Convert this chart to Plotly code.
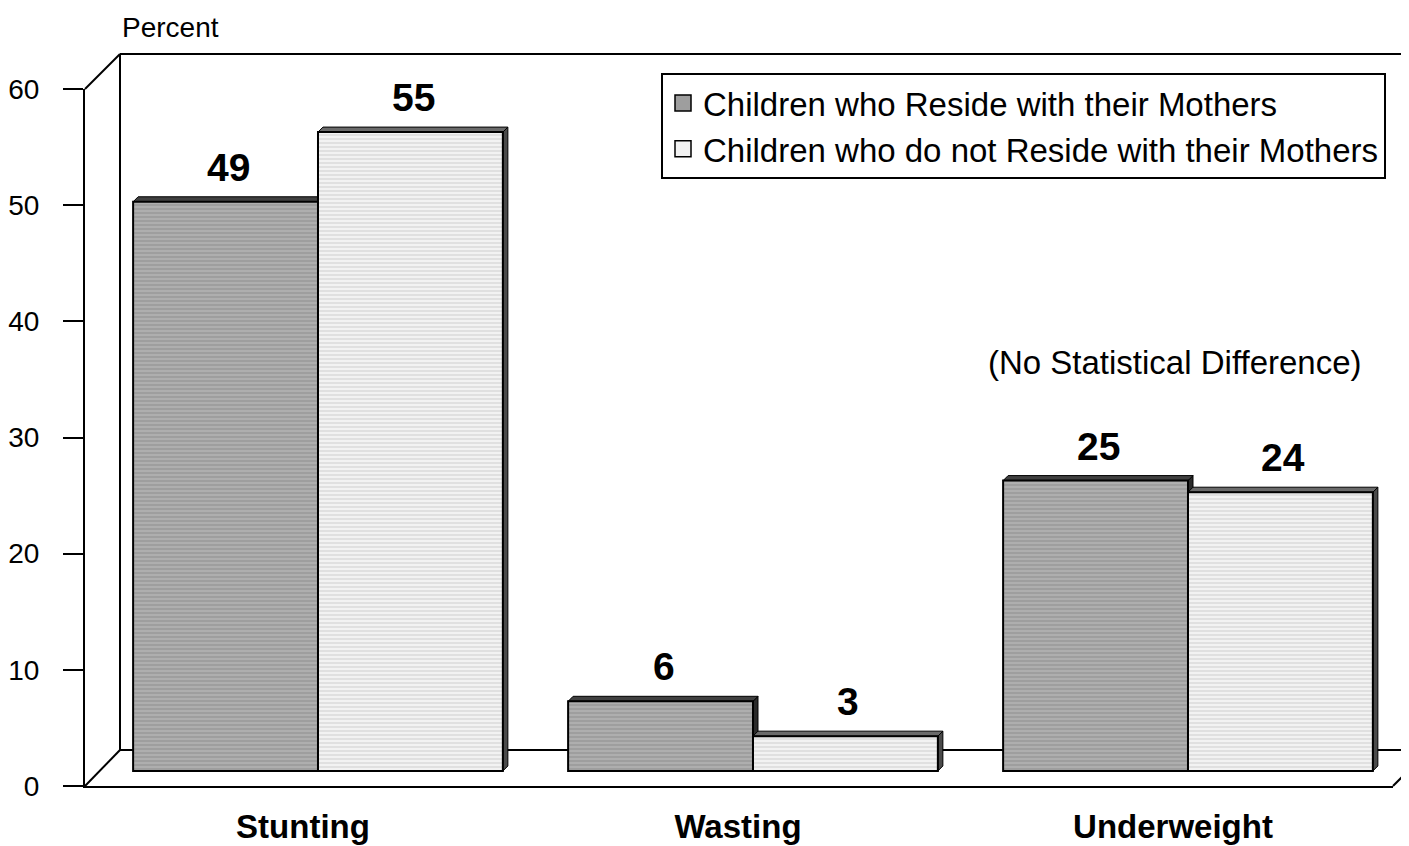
import plotly.graph_objects as go

# ---------------- data ----------------
categories = ["Stunting", "Wasting", "Underweight"]
series_names = ["Children who Reside with their Mothers",
                "Children who do not Reside with their Mothers"]
with_mother = [49, 6, 25]
without_mother = [55, 3, 24]
y_tick_values = [0, 10, 20, 30, 40, 50, 60]
note_text = "(No Statistical Difference)"
axis_title = "Percent"

# ---------------- geometry ----------------
PAGE_OFF = 8                      # default page body margin
W, H = 1409 - PAGE_OFF, 846 - PAGE_OFF
ML, MT = 85 - PAGE_OFF, 89 - PAGE_OFF
PW, PH = 1308, 697
MR, MB = W - ML - PW, H - MT - PH
Y_MAX = 60
px_per_unit_y = PH / Y_MAX
floor_off = 15 / px_per_unit_y           # bars sit a bit behind the front edge
px_per_cat = 435.0
x_left = -0.5356
x_right = x_left + PW / px_per_cat
bar_w = 0.425
dx = 5 / px_per_cat                      # bar depth
dy = 5 / px_per_unit_y

def px2paper_x(p):                # p: page pixel
    return (p - PAGE_OFF - ML) / PW

def px2paper_y(p):
    return (MT + PH - (p - PAGE_OFF)) / PH

FONT = "Liberation Sans, Arial, sans-serif"
x_idx = list(range(len(categories)))

fig = go.Figure()
styles = [
    dict(bg="#9e9e9e", fg="#b0b0b0", top="#404040", side="#2a2a2a"),
    dict(bg="#f2f2f2", fg="#dedede", top="#6a6a6a", side="#4a4a4a"),
]
for i, (name, vals) in enumerate(zip(series_names, [with_mother, without_mother])):
    st = styles[i]
    fig.add_trace(go.Bar(
        x=x_idx, y=vals, name=name, legendgroup=str(i), showlegend=False,
        marker=dict(color=st["bg"], line=dict(color="black", width=2),
                    pattern=dict(shape="-", fgcolor=st["fg"], bgcolor=st["bg"],
                                 size=4, solidity=0.45, fillmode="replace")),
        hoverinfo="x+y",
    ))
# legend entries with larger square keys
for i, name in enumerate(series_names):
    st = styles[i]
    fig.add_trace(go.Scatter(
        x=[None], y=[None], name=name, legendgroup=str(i), mode="markers",
        marker=dict(symbol="square", size=16, color=st["bg"],
                    line=dict(color="black", width=1.5)),
        showlegend=True, hoverinfo="skip",
    ))

# ---------------- 3D frame (paper coords) ----------------
shapes = []
line = dict(color="black", width=2)
bx, by_top, by_floor = 120, 54, 750
shapes.append(dict(type="line", xref="paper", yref="paper", layer="below",
                   x0=px2paper_x(bx), x1=px2paper_x(bx),
                   y0=px2paper_y(by_top), y1=px2paper_y(by_floor), line=line))
shapes.append(dict(type="line", xref="paper", yref="paper", layer="below",
                   x0=px2paper_x(bx), x1=px2paper_x(1420),
                   y0=px2paper_y(by_top), y1=px2paper_y(by_top), line=line))
shapes.append(dict(type="line", xref="paper", yref="paper", layer="below",
                   x0=0, x1=px2paper_x(bx), y0=1, y1=px2paper_y(by_top), line=line))
shapes.append(dict(type="line", xref="paper", yref="paper", layer="below",
                   x0=px2paper_x(bx), x1=px2paper_x(1420),
                   y0=px2paper_y(by_floor), y1=px2paper_y(by_floor), line=line))
shapes.append(dict(type="line", xref="paper", yref="paper", layer="below",
                   x0=0, x1=px2paper_x(bx), y0=0, y1=px2paper_y(by_floor), line=line))
shapes.append(dict(type="line", xref="paper", yref="paper", layer="below",
                   x0=1, x1=1 + 36 / PW, y0=0, y1=36 / PH, line=line))

# ---------------- 3D bar faces ----------------
for i, vals in enumerate([with_mother, without_mother]):
    st = styles[i]
    for k, v in zip(x_idx, vals):
        x0 = k + (i - 1) * bar_w
        x1 = x0 + bar_w
        top = f"M {x0},{v} L {x1},{v} L {x1+dx},{v+dy} L {x0+dx},{v+dy} Z"
        side = f"M {x1},{v} L {x1+dx},{v+dy} L {x1+dx},{dy} L {x1},0 Z"
        shapes.append(dict(type="path", path=side, xref="x", yref="y", layer="below",
                           fillcolor=st["side"], line=dict(color="black", width=1)))
        shapes.append(dict(type="path", path=top, xref="x", yref="y", layer="below",
                           fillcolor=st["top"], line=dict(color="black", width=1)))

# ---------------- annotations ----------------
annotations = []
for i, vals in enumerate([with_mother, without_mother]):
    for k, v in zip(x_idx, vals):
        xc = k + (i - 0.5) * bar_w
        annotations.append(dict(x=xc, y=v, xref="x", yref="y", text=f"<b>{v}</b>",
                                showarrow=False, yanchor="bottom", xshift=3, yshift=11,
                                font=dict(family=FONT, size=39, color="black")))
annotations.append(dict(x=px2paper_x(120), y=px2paper_y(27), xref="paper", yref="paper",
                        text=axis_title, showarrow=False, xanchor="left", yanchor="middle",
                        font=dict(family=FONT, size=28, color="black")))
annotations.append(dict(x=px2paper_x(1175), y=px2paper_y(362), xref="paper", yref="paper",
                        text=note_text, showarrow=False, xanchor="center", yanchor="middle",
                        font=dict(family=FONT, size=33, color="black")))

fig.update_layout(
    width=W, height=H,
    margin=dict(l=ML, r=MR, t=MT, b=MB, autoexpand=False),
    paper_bgcolor="white", plot_bgcolor="rgba(0,0,0,0)",
    barmode="group", bargap=0.15, bargroupgap=0,
    font=dict(family=FONT, color="black"),
    xaxis=dict(range=[x_left, x_right], tickvals=x_idx,
               ticktext=[f"<b>{c}</b>" for c in categories],
               tickfont=dict(family=FONT, size=33, color="black"),
               showline=True, linecolor="black", linewidth=2, showgrid=False,
               zeroline=False, ticks="", ticklabelshift=-15, ticklabelstandoff=10,
               automargin=False, fixedrange=True),
    yaxis=dict(range=[-floor_off, Y_MAX - floor_off], visible=False, fixedrange=True,
               automargin=False),
    yaxis2=dict(range=[0, Y_MAX], overlaying="y", side="left", tickvals=y_tick_values,
                showline=True, linecolor="black", linewidth=2, ticks="outside",
                ticklen=20, tickwidth=2, tickcolor="black", showgrid=False,
                zeroline=False, tickfont=dict(family=FONT, size=28, color="black"),
                ticklabelstandoff=18, automargin=False, fixedrange=True),
    legend=dict(x=px2paper_x(661), y=px2paper_y(73), xanchor="left", yanchor="top",
                bgcolor="white", bordercolor="black", borderwidth=2,
                font=dict(family=FONT, size=33, color="black"),
                tracegroupgap=3, traceorder="normal", itemwidth=30),
    shapes=shapes, annotations=annotations,
    showlegend=True,
)
# invisible helper so yaxis2 renders
fig.add_trace(go.Scatter(x=[x_left], y=[0], yaxis="y2", mode="markers",
                         marker=dict(opacity=0), showlegend=False, hoverinfo="skip"))

fig.write_html("out.html")
